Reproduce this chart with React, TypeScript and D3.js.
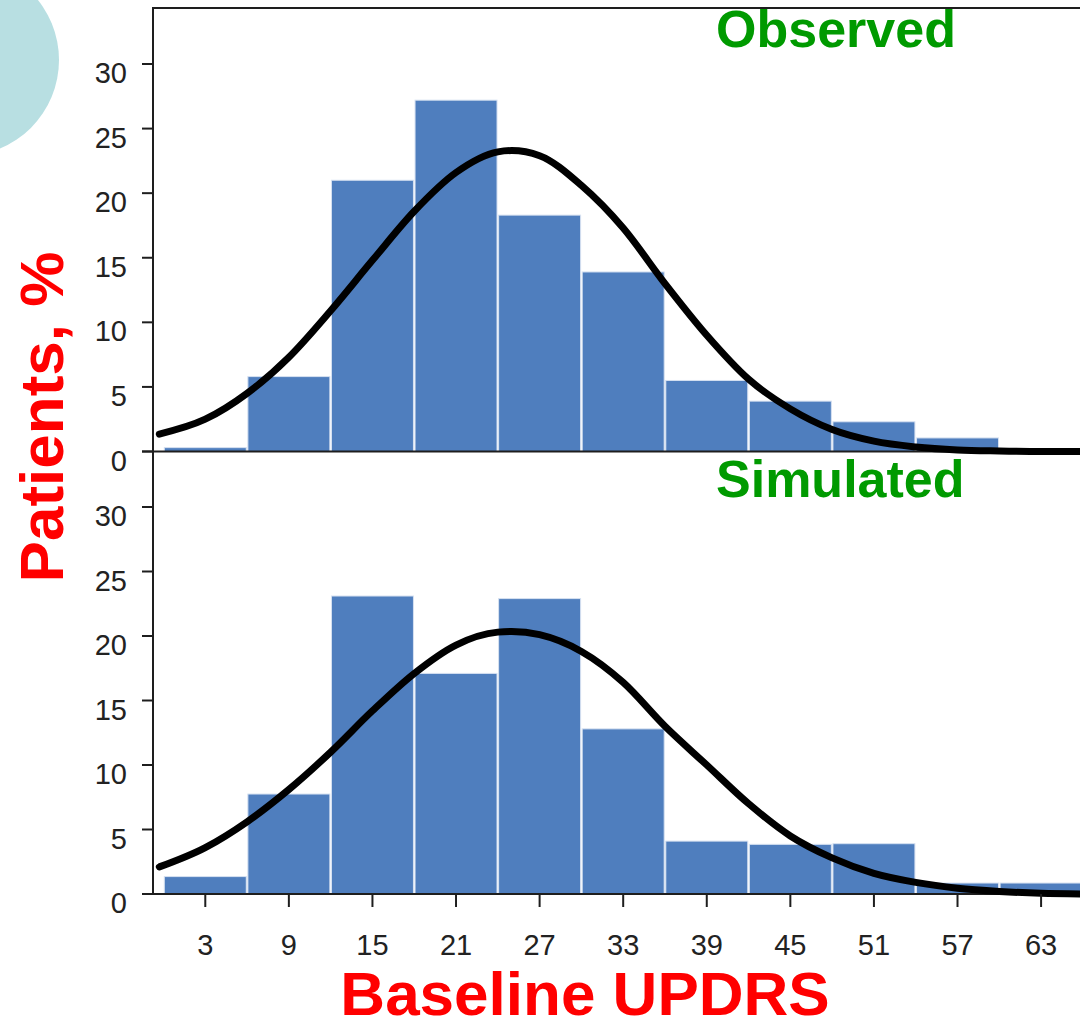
import React from "react";
import * as d3 from "d3";

// bins of width 6, starting at 0
const binStarts = [0, 6, 12, 18, 24, 30, 36, 42, 48, 54, 60];
const observedPct = [0.3, 5.8, 21.0, 27.2, 18.3, 13.9, 5.5, 3.9, 2.3, 1.05, 0];
const simulatedPct = [1.35, 7.75, 23.1, 17.1, 22.9, 12.8, 4.1, 3.85, 3.9, 0.85, 0.85];

// fitted density curves
const observedCurve: [number, number][] = [
  [-0.3, 1.35], [3, 2.5], [6, 4.5], [9, 7.3], [12, 10.9], [15, 14.8], [18, 18.6],
  [21, 21.6], [24, 23.2], [25, 23.3], [27, 22.9], [30, 20.6], [33, 17.3], [36, 13.0],
  [39, 9.0], [42, 5.6], [45, 3.3], [48, 1.7], [51, 0.8], [54, 0.35], [57, 0.12],
  [60, 0.04], [63, 0], [66, 0],
];
const simulatedCurve: [number, number][] = [
  [-0.3, 2.1], [3, 3.6], [6, 5.6], [9, 8.1], [12, 11.0], [15, 14.2], [18, 17.1],
  [21, 19.3], [24, 20.3], [25, 20.35], [27, 20.1], [30, 18.8], [33, 16.4], [36, 13.0],
  [39, 10.0], [42, 7.0], [45, 4.5], [48, 2.8], [51, 1.6], [54, 0.9], [57, 0.45],
  [60, 0.2], [63, 0.05], [66, 0],
];

const yTicks = [0, 5, 10, 15, 20, 25, 30];
const xTicks = [3, 9, 15, 21, 27, 33, 39, 45, 51, 57, 63];

const W = 1080;
const H = 1027;
const FONT = "'Liberation Sans', Arial, sans-serif";
const BAR = "#4f7ebe";
const AXIS = "#1e1e1e";

const x = d3.scaleLinear().domain([0, 66]).range([163.5, 163.5 + 66 * 13.93]);
const yTop = d3.scaleLinear().domain([0, 30]).range([451.5, 64]);
const yBot = d3.scaleLinear().domain([0, 30]).range([894, 507]);

function Panel({ values, curve, y, label, labelY }: {
  values: number[];
  curve: [number, number][];
  y: d3.ScaleLinear<number, number>;
  label: string;
  labelY: number;
}) {
  const line = d3.line<[number, number]>()
    .x(d => x(d[0]))
    .y(d => y(d[1]))
    .curve(d3.curveMonotoneX);
  return (
    <g>
      {values.map((v, i) => v > 0 && (
        <rect key={i}
          x={x(binStarts[i]) + 0.8}
          width={x(binStarts[i] + 6) - x(binStarts[i]) - 1.6}
          y={y(v)}
          height={y(0) - y(v)}
          fill={BAR} stroke="#d6e1f1" strokeWidth={1} />
      ))}
      <line x1={142} x2={W} y1={y(0)} y2={y(0)} stroke={AXIS} strokeWidth={2} />
      {yTicks.map(t => (
        <g key={t}>
          <line x1={142} x2={153} y1={y(t)} y2={y(t)} stroke={AXIS} strokeWidth={2} />
          <text x={127} y={y(t) + 19} textAnchor="end" fontSize={29} fill="#222" fontFamily={FONT}>{t}</text>
        </g>
      ))}
      <path d={line(curve) || ""} fill="none" stroke="#000" strokeWidth={7} strokeLinejoin="round" strokeLinecap="round" />
      <text x={716} y={labelY} fontSize={52} fontWeight="bold" fill="#009a00" fontFamily={FONT}>{label}</text>
    </g>
  );
}

export default function App() {
  return (
    <div style={{ position: "absolute", left: 0, top: 0 }}>
      <svg width={W} height={H} style={{ display: "block", background: "#fff" }}>
        <circle cx={-37} cy={60} r={96} fill="#b8dfe2" />
        {/* frame */}
        <line x1={153} x2={W} y1={8} y2={8} stroke={AXIS} strokeWidth={2} />
        <line x1={153} x2={153} y1={7} y2={894} stroke={AXIS} strokeWidth={2} />
        <Panel values={observedPct} curve={observedCurve} y={yTop} label="Observed" labelY={47} />
        <Panel values={simulatedPct} curve={simulatedCurve} y={yBot} label="Simulated" labelY={497} />
        {xTicks.map(t => (
          <g key={t}>
            <line x1={x(t)} x2={x(t)} y1={894} y2={907} stroke={AXIS} strokeWidth={2} />
            <text x={x(t)} y={955} textAnchor="middle" fontSize={29} fill="#222" fontFamily={FONT}>{t}</text>
          </g>
        ))}
        <text x={585} y={1015} textAnchor="middle" fontSize={62} fontWeight="bold" fill="#ff0000" fontFamily={FONT}>Baseline UPDRS</text>
        <text transform="translate(63,417) rotate(-90)" textAnchor="middle" fontSize={62} fontWeight="bold" fill="#ff0000" fontFamily={FONT}>Patients, %</text>
      </svg>
    </div>
  );
}
